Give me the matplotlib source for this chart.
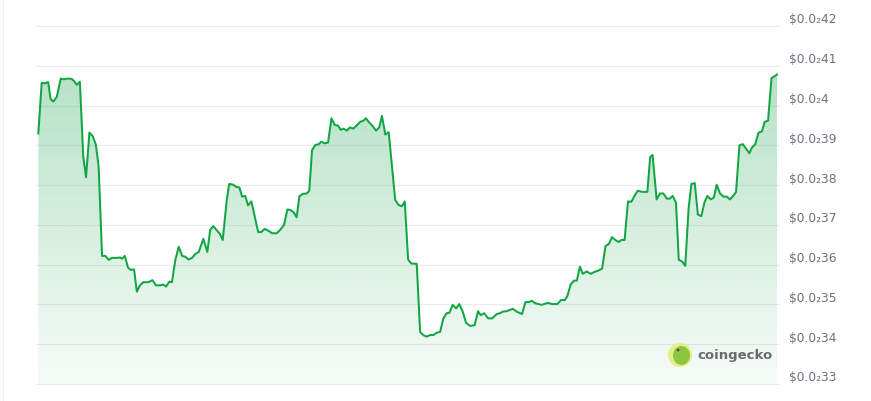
import numpy as np
import matplotlib.pyplot as plt
from matplotlib.patches import Ellipse

# price in units of $0.0001 (CoinGecko shows $0.0₂XX), time in hours
hours = [0.01, 0.12, 0.23, 0.33, 0.41, 0.50, 0.61, 0.74, 0.82, 0.98, 1.09, 1.17, 1.26, 1.36,
         1.47, 1.56, 1.67, 1.78, 1.88, 1.97, 2.08, 2.19, 2.30, 2.40, 2.56, 2.66, 2.73, 2.82,
         2.92, 3.01, 3.12, 3.21, 3.31, 3.42, 3.58, 3.72, 3.83, 3.96, 4.07, 4.16, 4.26, 4.35,
         4.46, 4.57, 4.68, 4.78, 4.89, 5.00, 5.11, 5.22, 5.37, 5.50, 5.59, 5.69, 5.82, 5.91,
         6.00, 6.13, 6.21, 6.34, 6.43, 6.54, 6.63, 6.73, 6.82, 6.93, 7.04, 7.15, 7.25, 7.36,
         7.49, 7.60, 7.75, 7.86, 7.99, 8.10, 8.21, 8.31, 8.40, 8.49, 8.60, 8.73, 8.81, 8.90,
         9.01, 9.12, 9.20, 9.31, 9.42, 9.53, 9.64, 9.74, 9.83, 9.92, 10.03, 10.13, 10.24,
         10.35, 10.46, 10.57, 10.65, 10.74, 10.85, 10.98, 11.08, 11.17, 11.28, 11.39, 11.60,
         11.71, 11.82, 11.91, 12.02, 12.12, 12.30, 12.41, 12.51, 12.62, 12.73, 12.84, 12.95,
         13.06, 13.16, 13.27, 13.36, 13.47, 13.58, 13.68, 13.79, 13.90, 14.03, 14.18, 14.29,
         14.38, 14.49, 14.62, 14.75, 14.90, 15.01, 15.09, 15.22, 15.42, 15.57, 15.72, 15.83,
         15.94, 16.04, 16.15, 16.35, 16.56, 16.69, 16.87, 16.98, 17.11, 17.19, 17.30, 17.41,
         17.50, 17.60, 17.69, 17.82, 17.95, 18.08, 18.19, 18.32, 18.43, 18.54, 18.64, 18.75,
         18.86, 18.94, 19.05, 19.16, 19.27, 19.38, 19.48, 19.61, 19.79, 19.88, 19.96, 20.09,
         20.20, 20.31, 20.42, 20.52, 20.61, 20.72, 20.81, 20.92, 21.02, 21.13, 21.22, 21.33,
         21.43, 21.54, 21.65, 21.74, 21.85, 21.95, 22.04, 22.15, 22.26, 22.37, 22.47, 22.58,
         22.67, 22.78, 22.89, 22.99, 23.10, 23.19, 23.29, 23.40, 23.51, 23.60, 23.71, 23.82,
         23.93, 24.00]
prices = [39.30, 40.57, 40.56, 40.59, 40.16, 40.10, 40.22, 40.68, 40.66, 40.68, 40.67, 40.62, 40.52, 40.60,
          38.71, 38.20, 39.32, 39.23, 39.01, 38.46, 36.22, 36.22, 36.12, 36.17, 36.17, 36.18, 36.15, 36.22,
          35.93, 35.87, 35.88, 35.32, 35.48, 35.56, 35.56, 35.61, 35.48, 35.48, 35.50, 35.45, 35.57, 35.56,
          36.12, 36.45, 36.22, 36.20, 36.13, 36.17, 36.27, 36.32, 36.65, 36.32, 36.87, 36.97, 36.85, 36.77,
          36.62, 37.63, 38.03, 38.01, 37.96, 37.94, 37.71, 37.73, 37.49, 37.59, 37.21, 36.82, 36.82, 36.90,
          36.85, 36.79, 36.79, 36.87, 37.00, 37.39, 37.37, 37.31, 37.19, 37.72, 37.78, 37.79, 37.86, 38.88,
          39.01, 39.03, 39.09, 39.05, 39.07, 39.68, 39.51, 39.50, 39.39, 39.42, 39.37, 39.45, 39.42,
          39.50, 39.59, 39.62, 39.68, 39.59, 39.50, 39.37, 39.45, 39.74, 39.27, 39.33, 37.63,
          37.50, 37.47, 37.59, 36.13, 36.03, 36.02, 34.31, 34.23, 34.19, 34.23, 34.23, 34.29,
          34.31, 34.64, 34.78, 34.79, 34.99, 34.90, 35.01, 34.83, 34.54, 34.46, 34.48, 34.83,
          34.73, 34.78, 34.65, 34.65, 34.76, 34.78, 34.82, 34.83, 34.89, 34.81, 34.76, 35.06,
          35.06, 35.09, 35.03, 34.99, 35.04, 35.01, 35.01, 35.11, 35.11, 35.21, 35.50, 35.60,
          35.60, 35.95, 35.77, 35.83, 35.77, 35.82, 35.85, 35.90, 36.47, 36.52, 36.69, 36.62,
          36.57, 36.62, 36.62, 37.59, 37.58, 37.74, 37.86, 37.83, 37.83, 38.70, 38.76, 37.64,
          37.79, 37.79, 37.66, 37.66, 37.73, 37.56, 36.12, 36.08, 35.97, 37.42, 38.03, 38.05,
          37.26, 37.22, 37.58, 37.73, 37.64, 37.69, 38.01, 37.79, 37.71, 37.71, 37.64, 37.73,
          37.83, 39.00, 39.03, 38.92, 38.80, 38.95, 39.02, 39.32, 39.35, 39.59, 39.62, 40.69,
          40.74, 40.78]
tick_values = [33, 34, 35, 36, 37, 38, 39, 40, 41, 42]
tick_labels = ["$0.0₂33", "$0.0₂34", "$0.0₂35", "$0.0₂36", "$0.0₂37",
               "$0.0₂38", "$0.0₂39", "$0.0₂4", "$0.0₂41", "$0.0₂42"]

W, H = 871, 401
fig = plt.figure(figsize=(W / 100, H / 100), dpi=100)
ax = fig.add_axes([38 / W, (H - 384) / H, (777 - 38) / W, (384 - 26) / H])
ax.set_xlim(0, 24)
ax.set_ylim(33, 42)
ax.axis("off")

green = "#12a643"

for v in tick_values:
    ax.plot([-0.05, 24.05], [v, v], color="#ececec", lw=0.8, zorder=0, clip_on=False)

# gradient fill below the line
x = np.array(hours)
y = np.array(prices)
poly = ax.fill_between(x, y, 33, color="none")
grad = np.linspace(0.32, 0.04, 256).reshape(-1, 1)
rgba = np.zeros((256, 1, 4))
rgba[..., 0] = 0x16 / 255
rgba[..., 1] = 0xa3 / 255
rgba[..., 2] = 0x4a / 255
rgba[..., 3] = grad
img = ax.imshow(rgba, extent=[0, 24, 33, 41], aspect="auto", origin="upper", zorder=1)
img.set_clip_path(poly.get_paths()[0], transform=ax.transData)
ax.set_ylim(33, 42)
ax.set_xlim(0, 24)

ax.plot(x, y, color=green, lw=1.45, zorder=3, clip_on=False, solid_joinstyle="round")

for v, lab in zip(tick_values, tick_labels):
    ax.annotate(lab, xy=(1, v), xycoords=("axes fraction", "data"),
                xytext=(12, 6), textcoords="offset pixels",
                ha="left", va="center", fontsize=8.8, color="#6b7280")

# left border line
fig.add_artist(plt.Line2D([3 / W, 3 / W], [0, 1], color="#f0f0f0", lw=0.8))

# coingecko watermark
fig.add_artist(Ellipse((680 / W, (H - 355) / H), 24 / W, 24 / H, transform=fig.transFigure,
                       facecolor="#e6ee8a", edgecolor="none"))
fig.add_artist(Ellipse((681.5 / W, (H - 355.5) / H), 17 / W, 19 / H, transform=fig.transFigure,
                       facecolor="#8cc63f", edgecolor="none"))
fig.add_artist(Ellipse((678 / W, (H - 350) / H), 3 / W, 3 / H, transform=fig.transFigure,
                       facecolor="#555555", edgecolor="none"))
fig.text(697 / W, (H - 355) / H, "coingecko", fontsize=9.5, fontweight="bold",
         color="#6b6b6b", va="center", ha="left")

fig.savefig("out.png", dpi=100)
